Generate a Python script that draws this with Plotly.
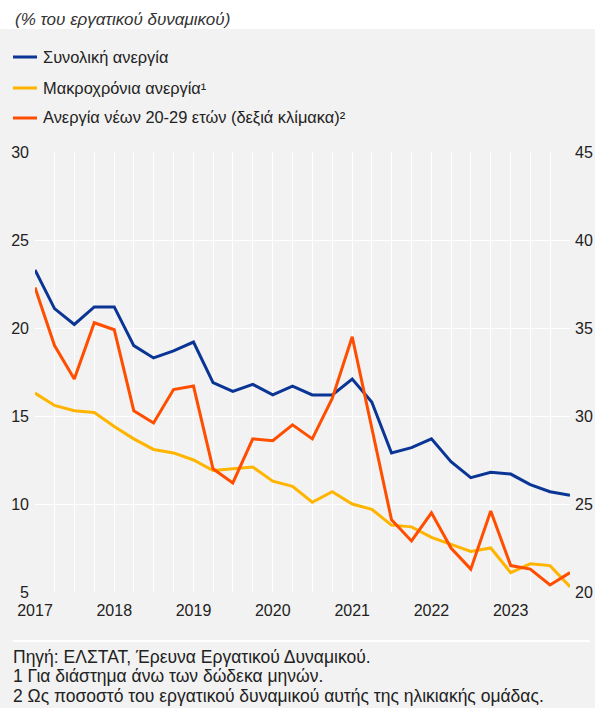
import pandas as pd
import plotly.graph_objects as go

# Quarterly observations, 2017Q1 - 2023Q4
quarters = pd.date_range(start="2017-01-01", periods=28, freq="QS")

total_unemployment = [23.3, 21.1, 20.2, 21.2, 21.2, 19.0, 18.3, 18.7,
                      19.2, 16.9, 16.4, 16.8, 16.2, 16.7, 16.2, 16.2,
                      17.1, 15.8, 12.9, 13.2, 13.7, 12.4, 11.5, 11.8,
                      11.7, 11.1, 10.7, 10.5]
long_term_unemployment = [16.3, 15.6, 15.3, 15.2, 14.4, 13.7, 13.1, 12.9,
                          12.5, 11.9, 12.0, 12.1, 11.3, 11.0, 10.1, 10.7,
                          10.0, 9.7, 8.8, 8.7, 8.1, 7.7, 7.3, 7.5,
                          6.1, 6.6, 6.5, 5.3]
youth_unemployment = [37.3, 34.0, 32.1, 35.3, 34.9, 30.3, 29.6, 31.5,
                      31.7, 27.0, 26.2, 28.7, 28.6, 29.5, 28.7, 31.0,
                      34.5, 29.3, 24.1, 22.9, 24.5, 22.5, 21.3, 24.6,
                      21.5, 21.3, 20.4, 21.1]

series_names = ["Συνολική ανεργία", "Μακροχρόνια ανεργία¹",
                "Ανεργία νέων 20-29 ετών (δεξιά κλίμακα)²"]
title_text = "(% του εργατικού δυναμικού)"
footer_lines = ["Πηγή: ΕΛΣΤΑΤ, Έρευνα Εργατικού Δυναμικού.",
                "1 Για διάστημα άνω των δώδεκα μηνών.",
                "2 Ως ποσοστό του εργατικού δυναμικού αυτής της ηλικιακής ομάδας."]

BLUE = "#0a3595"
YELLOW = "#ffb400"
ORANGE = "#ff4e00"
colors = [BLUE, YELLOW, ORANGE]
BG = "#f2f2f2"
TXT = "#222222"
FONT = "Liberation Sans, Arial, sans-serif"

fig = go.Figure()
fig.add_trace(go.Scatter(x=quarters, y=total_unemployment, name=series_names[0],
                         mode="lines", line=dict(color=BLUE, width=3)))
fig.add_trace(go.Scatter(x=quarters, y=long_term_unemployment, name=series_names[1],
                         mode="lines", line=dict(color=YELLOW, width=3)))
fig.add_trace(go.Scatter(x=quarters, y=youth_unemployment, name=series_names[2],
                         mode="lines", line=dict(color=ORANGE, width=3),
                         yaxis="y2"))

L, R, T, B = 35, 25, 152, 116
W, H = 595, 708
pw, ph = W - L - R, H - T - B

def px_x(x):
    return (x - L) / pw

def px_y(y):
    return (H - B - y) / ph

shapes = [
    dict(type="rect", xref="paper", yref="paper", x0=px_x(-5), x1=px_x(W + 5),
         y0=px_y(29), y1=px_y(-5), fillcolor="white", line=dict(width=0),
         layer="below"),
    dict(type="line", xref="paper", yref="paper", x0=px_x(13), x1=px_x(590),
         y0=px_y(641), y1=px_y(641), line=dict(color="white", width=2)),
]
legend_y = [57, 88, 118]
for c, ly in zip(colors, legend_y):
    shapes.append(dict(type="line", xref="paper", yref="paper",
                       x0=px_x(13), x1=px_x(37), y0=px_y(ly), y1=px_y(ly),
                       line=dict(color=c, width=3)))

fig.update_layout(
    width=W, height=H,
    margin=dict(l=L, r=R, t=T, b=B, autoexpand=False),
    paper_bgcolor=BG, plot_bgcolor=BG,
    font=dict(family=FONT, size=16, color=TXT),
    showlegend=False,
    xaxis=dict(type="date", range=[quarters[0], quarters[-1]],
               dtick="M12", tick0="2017-01-01", tickformat="%Y",
               showgrid=True, gridcolor="white", gridwidth=1,
               minor=dict(dtick="M3", showgrid=True, gridcolor="white", gridwidth=1),
               zeroline=False, showline=False, ticks="", ticklabelstandoff=7,
               tickfont=dict(size=16, color=TXT)),
    yaxis=dict(range=[5, 30], dtick=5, tick0=5, showgrid=True, gridcolor="white",
               gridwidth=1, zeroline=False, showline=False, ticks="",
               ticklabelstandoff=5, tickfont=dict(size=16, color=TXT)),
    yaxis2=dict(range=[20, 45], dtick=5, tick0=20, overlaying="y", side="right",
                showgrid=False, zeroline=False, showline=False, ticks="",
                ticklabelstandoff=4, tickfont=dict(size=16, color=TXT)),
    shapes=shapes,
)

for name, ly in zip(series_names, legend_y):
    fig.add_annotation(text=name, xref="paper", yref="paper",
                       x=px_x(41), y=px_y(ly), xanchor="left", yanchor="middle",
                       showarrow=False, font=dict(size=16.4, color=TXT))

fig.add_annotation(text="<i>" + title_text + "</i>", xref="paper", yref="paper",
                   x=px_x(13), y=px_y(20), xanchor="left", yanchor="middle",
                   showarrow=False, font=dict(size=17, color="#333333"))
for i, line in enumerate(footer_lines):
    fig.add_annotation(text=line, xref="paper", yref="paper",
                       x=px_x(11), y=px_y(656.5 + i * 19.5), xanchor="left",
                       yanchor="middle", showarrow=False,
                       font=dict(size=17.5, color=TXT))

fig.write_html("out.html", post_script="document.body.style.margin='0';",
               config={"displayModeBar": False})
